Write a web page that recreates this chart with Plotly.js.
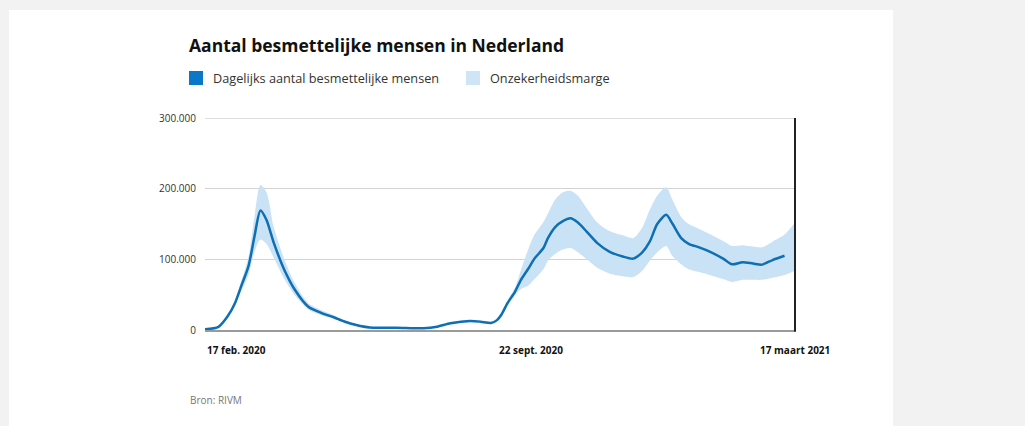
<!DOCTYPE html>
<html>
<head>
<meta charset="utf-8">
<script src="https://cdn.plot.ly/plotly-3.0.1.min.js"></script>
<style>
html,body{margin:0;padding:0;background:#f2f2f2;}
#chart{width:1025px;height:426px;}
</style>
</head>
<body>
<div id="chart"></div>
<script>
const dates = [
"2020-02-17","2020-02-26","2020-03-03","2020-03-08","2020-03-12","2020-03-17","2020-03-21","2020-03-25","2020-03-29",
"2020-04-03","2020-04-10","2020-04-17","2020-04-26","2020-05-05","2020-05-13","2020-05-20","2020-05-28","2020-06-06",
"2020-06-24","2020-07-12","2020-07-21","2020-07-30","2020-08-12","2020-08-19","2020-08-26","2020-08-30","2020-09-02",
"2020-09-06","2020-09-11","2020-09-15","2020-09-20","2020-09-24","2020-09-30","2020-10-03","2020-10-08","2020-10-13",
"2020-10-18","2020-10-23","2020-10-29","2020-11-05","2020-11-13","2020-11-22","2020-11-29","2020-12-05","2020-12-10",
"2020-12-15","2020-12-21","2020-12-25","2020-12-31","2021-01-05","2021-01-12","2021-01-19","2021-01-28","2021-02-03",
"2021-02-10","2021-02-17","2021-02-23","2021-03-02","2021-03-10","2021-03-17"
];
const besmettelijk = [
1000,4500,19000,38000,61000,90000,132000,169000,156000,
123000,85000,57000,33000,24000,18000,12000,7000,3500,
3300,2500,4700,9500,12700,11800,10000,14000,22000,
38000,54000,71000,87000,101000,116000,130000,146000,154000,
158000,152000,139000,123000,111000,104000,101000,110000,125000,
150000,163000,151000,130000,122000,117000,111000,101000,93000,
96000,94000,92500,99000,105000,null
];
const marge_onder = [
1000,4000,17000,34000,54000,78000,110000,128000,122000,
102000,72000,49000,29000,21000,16000,11000,6000,3000,
3000,2000,4000,8500,11500,10500,9000,12500,20000,
34000,50000,58000,63000,72000,86000,98000,108000,114000,
116000,110000,100000,88000,80000,76000,75000,84000,98000,
110000,119000,105000,93000,86000,82000,78000,72000,68000,
71000,71000,71000,74000,78000,84000
];
const marge_boven = [
1000,5000,21000,42000,68000,103000,160000,205000,195000,
145000,100000,66000,38000,28000,21000,14000,8000,4000,
4000,3000,5500,10500,14000,13000,11500,15500,24000,
42000,60000,85000,115000,135000,153000,165000,185000,195000,
197000,190000,172000,152000,140000,134000,130000,145000,170000,
190000,202000,185000,160000,150000,143000,136000,126000,119000,
120000,118000,117000,125000,135000,152000
];
const xLabels = ["17 feb. 2020","22 sept. 2020","17 maart 2021"];
const xLabelDates = ["2020-02-17","2020-09-22","2021-03-17"];
const yTicks = [0,100000,200000,300000];
const titleText = "Aantal besmettelijke mensen in Nederland";
const legendNames = ["Dagelijks aantal besmettelijke mensen","Onzekerheidsmarge"];
const sourceText = "Bron: RIVM";

const lineColor = "#0f6fb3";
const bandColor = "#c9e2f5";
const FONT = "Open Sans, sans-serif";

const traces = [
  {x: dates, y: marge_onder, type: "scatter", mode: "lines", line: {width: 0, color: bandColor, shape: "spline", smoothing: 0.8}, hoverinfo: "skip", showlegend: false},
  {x: dates, y: marge_boven, type: "scatter", mode: "lines", fill: "tonexty", fillcolor: bandColor, line: {width: 0, color: bandColor, shape: "spline", smoothing: 0.8}, name: legendNames[1], showlegend: false},
  {x: dates, y: besmettelijk, type: "scatter", mode: "lines", line: {color: lineColor, width: 2.5, shape: "spline", smoothing: 0.7}, name: legendNames[0], showlegend: false, connectgaps: false}
];

const annotations = [
  {text: "<b>" + titleText + "</b>", xref: "paper", yref: "paper", x: -0.0305, y: 1.344, xanchor: "left", yanchor: "middle", showarrow: false, font: {family: FONT, size: 17.5, color: "#111"}},
  {text: legendNames[0], xref: "paper", yref: "paper", x: 0.0102, y: 1.1887, xanchor: "left", yanchor: "middle", showarrow: false, font: {family: FONT, size: 12.7, color: "#333"}},
  {text: legendNames[1], xref: "paper", yref: "paper", x: 0.4797, y: 1.1887, xanchor: "left", yanchor: "middle", showarrow: false, font: {family: FONT, size: 12.7, color: "#333"}},
  {text: sourceText, xref: "paper", yref: "paper", x: -0.0288, y: -0.330, xanchor: "left", yanchor: "middle", showarrow: false, font: {family: FONT, size: 10, color: "#777"}}
];
xLabels.forEach((t, i) => {
  annotations.push({text: "<b>" + t + "</b>", xref: "x", yref: "paper", x: xLabelDates[i], y: -0.0943,
    xanchor: i === 0 ? "left" : "center", yanchor: "middle", showarrow: false, font: {family: FONT, size: 10, color: "#111"}});
});

const shapes = [
  {type: "rect", xref: "paper", yref: "paper", x0: -0.3322, x1: 1.1661, y0: -0.46, y1: 1.5094, fillcolor: "#ffffff", line: {width: 0}, layer: "below"},
  {type: "rect", xref: "paper", yref: "paper", x0: -0.0271, x1: -0.0034, y0: 1.1557, y1: 1.2217, fillcolor: "#0a78c8", line: {width: 0}},
  {type: "rect", xref: "paper", yref: "paper", x0: 0.4424, x1: 0.4661, y0: 1.1557, y1: 1.2217, fillcolor: "#cfe4f5", line: {width: 0}},
  {type: "line", xref: "paper", yref: "y", x0: 0, x1: 1, y0: yTicks[3], y1: yTicks[3], line: {color: "#d3d3d3", width: 1.5}, layer: "below"},
  {type: "line", xref: "paper", yref: "paper", x0: 1, x1: 1, y0: -0.008, y1: 1, line: {color: "#222", width: 2}}
];

const layout = {
  width: 1025, height: 426,
  margin: {l: 205, r: 230, t: 118, b: 96},
  paper_bgcolor: "#f2f2f2",
  plot_bgcolor: "rgba(0,0,0,0)",
  separators: ",.",
  showlegend: false,
  font: {family: FONT, color: "#333"},
  xaxis: {type: "date", range: ["2020-02-17", "2021-03-17"], showgrid: false, showticklabels: false, ticks: "",
          showline: true, linecolor: "#9a9a9a", linewidth: 2, zeroline: false, fixedrange: true},
  yaxis: {range: [0, 300000], tickvals: yTicks, tickformat: ",d", showgrid: true, gridcolor: "#d3d3d3", gridwidth: 1,
          zeroline: false, showline: false, ticks: "", ticklabelstandoff: 8,
          tickfont: {family: FONT, size: 10, color: "#333"}, fixedrange: true},
  annotations: annotations,
  shapes: shapes
};

Plotly.newPlot("chart", traces, layout, {displayModeBar: false, staticPlot: true});
</script>
</body>
</html>
